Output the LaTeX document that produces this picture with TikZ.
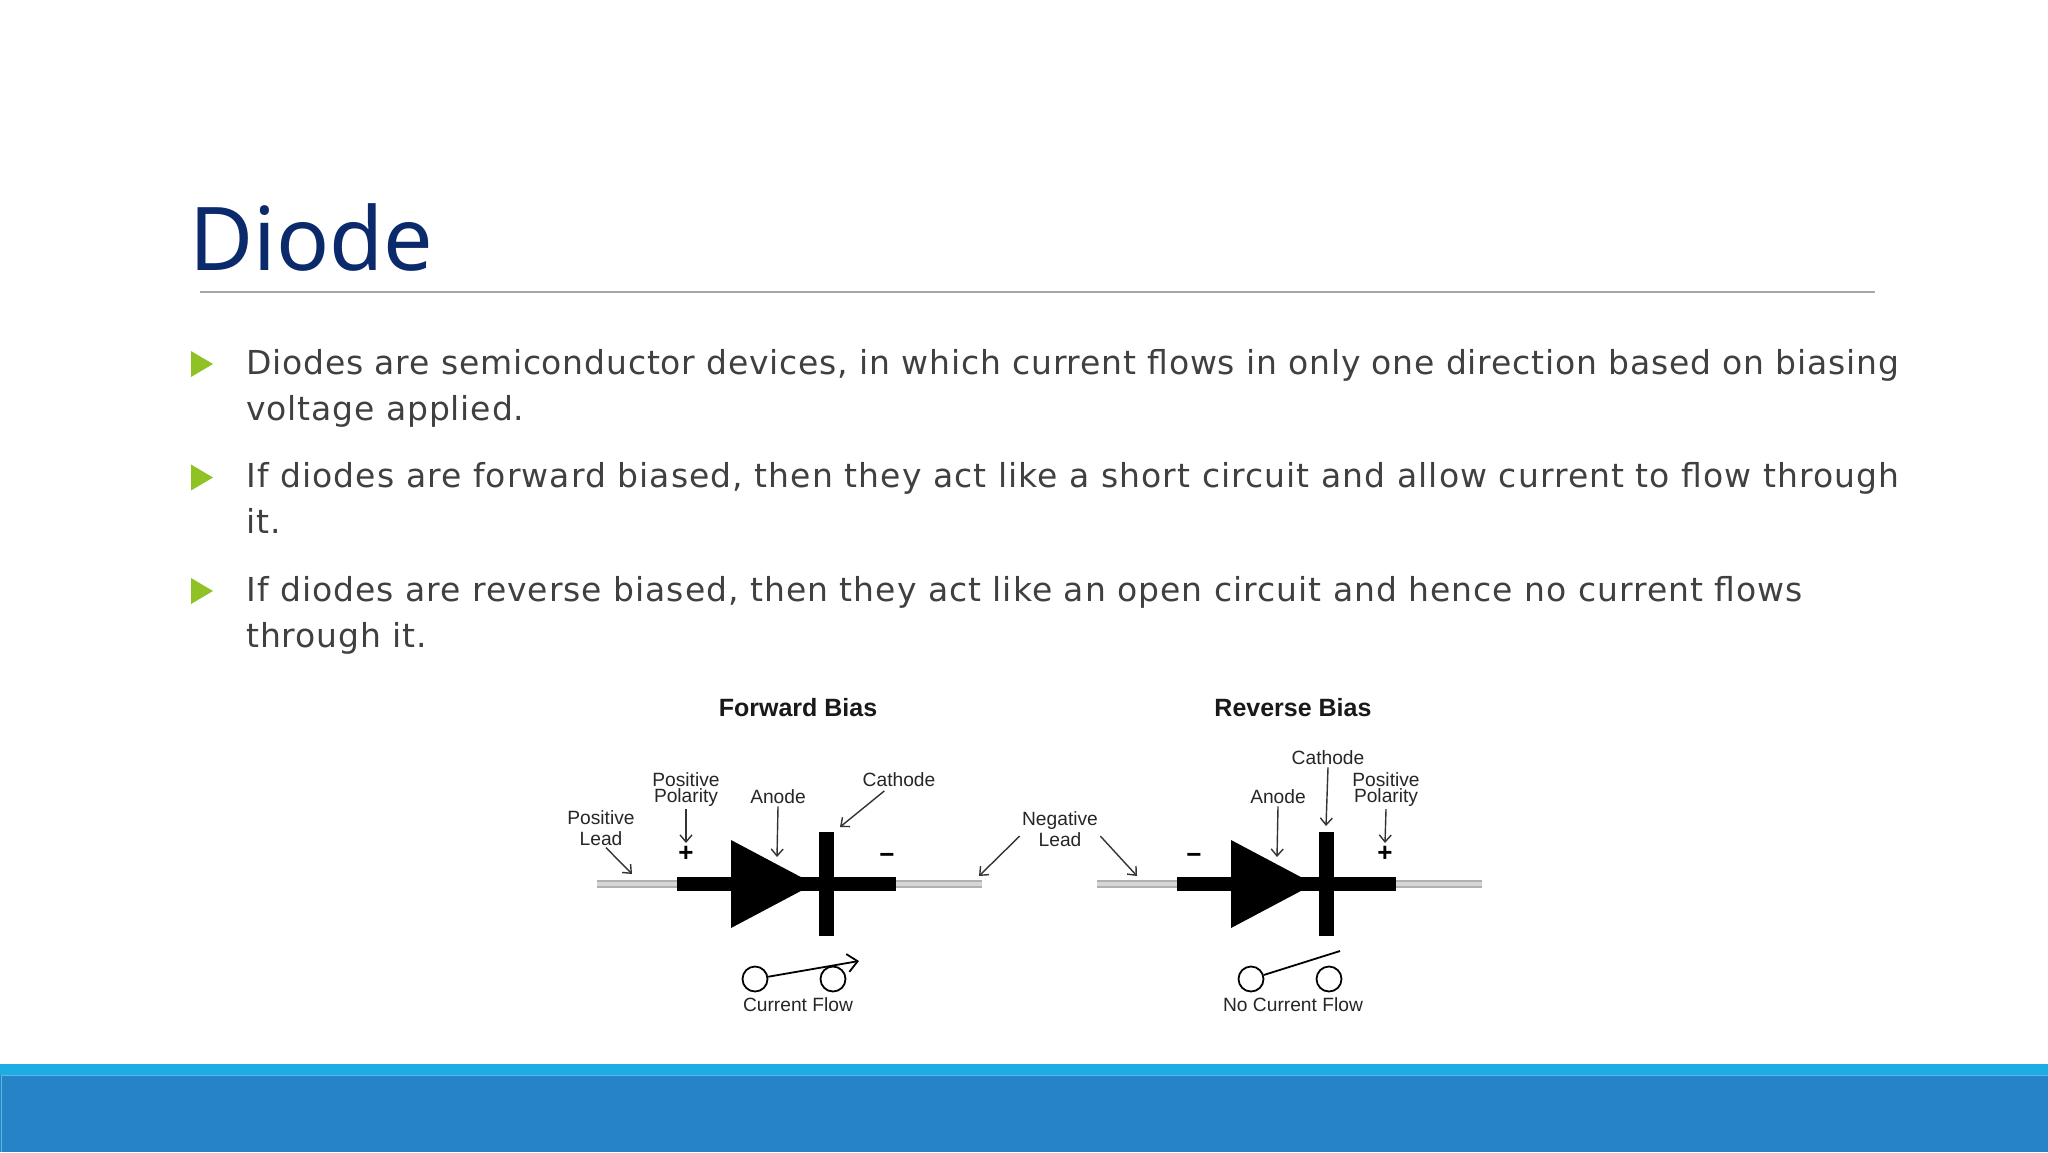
\documentclass[tikz,border=0pt]{standalone}
\usepackage{fontspec}
\setmainfont{Liberation Sans}
\newfontfamily\slidefont[LetterSpace=2.6]{DejaVu Sans}
\newfontfamily\titlefont{Noto Sans}
\usetikzlibrary{arrows.meta}
\definecolor{titleblue}{HTML}{0B2A6C}
\definecolor{bodygrey}{HTML}{404040}
\definecolor{bulletgreen}{HTML}{90C226}
\definecolor{bandlight}{HTML}{1CADE4}
\definecolor{banddark}{HTML}{2683C6}
\definecolor{bandedge}{HTML}{62B4E6}
\definecolor{leadgrey}{HTML}{B0B0B0}
\definecolor{leadlight}{HTML}{D6D6D6}
\begin{document}
\begin{tikzpicture}[x=0.5pt, y=-0.5pt, >={Straight Barb[length=3.5pt,width=6pt]},
		line/.style={anchor=base west,inner sep=0pt,text=bodygrey,font=\slidefont\fontsize{16.5}{20}\selectfont},
		bullet/.style={fill=bulletgreen},
		label/.style={inner sep=1pt,text=black!85,align=center,font=\fontsize{9.6}{8.2}\selectfont},
		heading/.style={anchor=base,inner sep=0pt,text=black!90,font=\bfseries\fontsize{12.5}{14}\selectfont},
		sign/.style={inner sep=1.5pt,font=\bfseries\fontsize{13}{13}\selectfont},
		lead/.style={draw=leadgrey,line width=1.1pt,double=leadlight,double distance=1.8pt},
		bar/.style={black,line width=7pt},
		pointer/.style={->,black!80,line width=0.7pt},
		contact/.style={draw=black,line width=0.9pt,circle,inner sep=0pt,minimum size=12.5pt}]
		\useasboundingbox (0,0) rectangle (2048,1152);
		\fill[white] (0,0) rectangle (2048,1152);

		% slide frame
		\fill[bandlight] (0,1064) rectangle (2048,1075);
		\fill[banddark] (0,1075) rectangle (2048,1152);
		\draw[bandedge,line width=0.4pt] (1,1152) -- (1,1075) -- (2048,1075);
		\node[anchor=base west,inner sep=0pt,text=titleblue,font=\titlefont\fontsize{44}{50}\selectfont] (title) at (189,270) {Diode};
		\draw[black!35,line width=0.7pt] (200,292) -- (1875,292);

		% text
		\fill[bullet] (191,351) -- (213,364) -- (191,377) -- cycle;
		\node[line] (one) at (246,374) {\addfontfeature{LetterSpace=2.4}Diodes are semiconductor devices, in which current flows in only one direction based on biasing};
		\node[line] (onea) at (246,420) {voltage applied.};
		\fill[bullet] (191,464.5) -- (213,477.5) -- (191,490.5) -- cycle;
		\node[line] (two) at (246,487.5) {\addfontfeature{LetterSpace=3.25}If diodes are forward biased, then they act like a short circuit and allow current to flow through};
		\node[line] (twoa) at (246,533.5) {it.};
		\fill[bullet] (191,578) -- (213,591) -- (191,604) -- cycle;
		\node[line] (three) at (246,601) {\addfontfeature{LetterSpace=3.0}If diodes are reverse biased, then they act like an open circuit and hence no current flows};
		\node[line] (threea) at (246,647) {through it.};

		% forward bias
		\node[heading] (fwhead) at (798,716) {Forward Bias};
		\draw[lead] (597,884) -- (677,884);
		\draw[lead] (896,884) -- (982,884);
		\draw[bar] (677,884) -- (896,884);
		\fill (731,840) -- (814,884) -- (731,928) -- cycle;
		\fill (819,832) rectangle (834,936);
		\node[sign] (fwplus) at (686,854) {+};
		\node[sign] (fwminus) at (887,858) {\textminus};
		\node[label] (fwlead) at (601,828) {Positive\\[2pt]Lead};
		\node[label] (fwpol) at (686,789.5) {Positive\\Polarity};
		\node[label] (fwanode) at (778,797) {Anode};
		\node[label] (fwcath) at (899,779.5) {Cathode};
		\coordinate (fwleadtip) at (632,874);
		\coordinate (fwanodetip) at (777,857);
		\coordinate (fwcathtip) at (840,827);
		\path[pointer]
			([xshift=2.5pt]fwlead.south) edge (fwleadtip)
			(fwpol.south) edge (fwplus.north)
			(fwanode.south) edge (fwanodetip)
			([xshift=12pt,yshift=-1pt]fwcath.south west) edge (fwcathtip);
		\node[contact] (fwa) at (755,979) {};
		\node[contact] (fwb) at (833,979) {};
		\coordinate (fwtip) at (859,961);
		\draw[->,line width=0.9pt,>={Straight Barb[length=5pt,width=9pt]}] (fwa) -- (fwtip);
		\node[label,anchor=base] (fwflow) at (798,1011.5) {Current Flow};

		% negative lead between the two
		\node[label] (neglead) at (1060,829) {Negative\\[0.8pt]Lead};
		\coordinate (negleft) at (979,876);
		\coordinate (negright) at (1137,876);
		\path[pointer]
			([yshift=-3.5pt]neglead.west) edge (negleft)
			([yshift=-3.5pt]neglead.east) edge (negright);

		% reverse bias
		\node[heading] (rvhead) at (1293,716) {Reverse Bias};
		\draw[lead] (1097,884) -- (1177,884);
		\draw[lead] (1396,884) -- (1482,884);
		\draw[bar] (1177,884) -- (1396,884);
		\fill (1231,840) -- (1314,884) -- (1231,928) -- cycle;
		\fill (1319,832) rectangle (1334,936);
		\node[sign] (rvminus) at (1194,858) {\textminus};
		\node[sign] (rvplus) at (1385,854) {+};
		\node[label] (rvanode) at (1278,797) {Anode};
		\node[label] (rvcath) at (1328,758) {Cathode};
		\node[label] (rvpol) at (1386,789.5) {Positive\\Polarity};
		\coordinate (rvanodetip) at (1277,857);
		\coordinate (rvcathtip) at (1326,826);
		\path[pointer]
			(rvanode.south) edge (rvanodetip)
			(rvcath.south) edge (rvcathtip)
			(rvpol.south) edge (rvplus.north);
		\node[contact] (rva) at (1251,979) {};
		\node[contact] (rvb) at (1329,979) {};
		\coordinate (rvtip) at (1340,951);
		\draw[line width=0.9pt] (rva) -- (rvtip);
		\node[label,anchor=base] (rvflow) at (1293,1011.5) {No Current Flow};
\end{tikzpicture}
\end{document}
